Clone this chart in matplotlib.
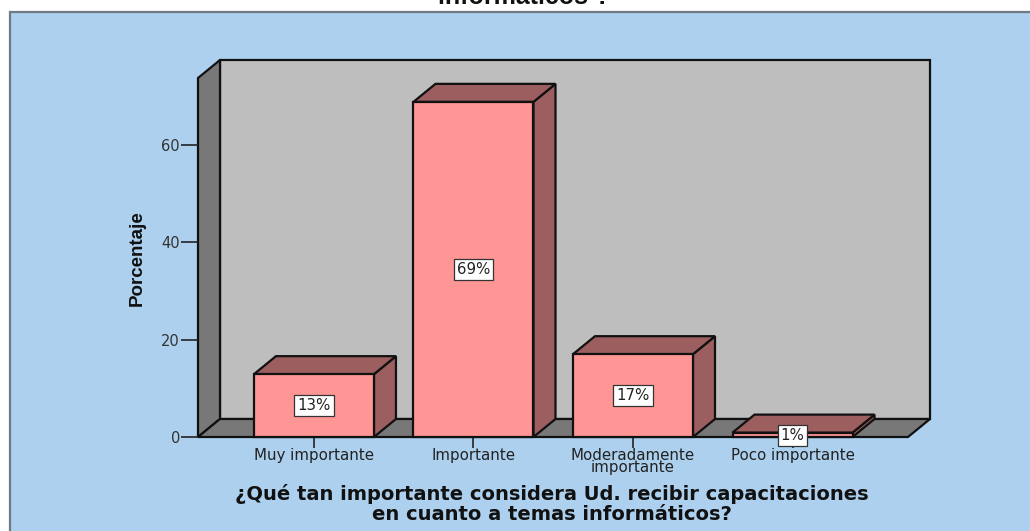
import matplotlib
matplotlib.use("Agg")
import matplotlib.pyplot as plt
from matplotlib.patches import Polygon, Rectangle

# Datos
categorias = ["Muy importante", "Importante", "Moderadamente\nimportante", "Poco importante"]
porcentajes = [12.9, 68.8, 17.0, 0.9]
etiquetas = ["13%", "69%", "17%", "1%"]
y_ticks = [0, 20, 40, 60]

W, H = 1030, 531
AZUL = "#acd0ee"
PARED = "#bebebe"
OSCURO = "#787878"
ROSA = "#ff9696"
ROSA_OSC = "#9c5e5e"


def px(x, y):
    return x / W, 1 - y / H


fig = plt.figure(figsize=(W / 100, H / 100), dpi=100, facecolor="white")

# Panel azul de fondo
fig.add_artist(Rectangle(px(9.5, H + 5), (W + 10) / W, (H + 5 - 11.5) / H, transform=fig.transFigure,
                         facecolor=AZUL, edgecolor="#6f7a84", linewidth=1.6, zorder=-1))

# Ejes: frente del cubo
ax = fig.add_axes([198 / W, 1 - 437 / H, (908 - 198) / W, (437 - 78) / H])
ax.set_xlim(-0.727, 3.724)
ax.set_ylim(0, 73.7)
ax.patch.set_alpha(0)
for s in ax.spines.values():
    s.set_visible(False)

# Profundidad en unidades de datos
dx = 22 / 159.5
dy = 18 / 4.87
x0, x1 = ax.get_xlim()
y0, y1 = ax.get_ylim()
lw = 1.6


def cara(puntos, color, z):
    ax.add_patch(Polygon(puntos, closed=True, facecolor=color, edgecolor="#111111",
                         linewidth=lw, clip_on=False, zorder=z, joinstyle="miter"))


cara([(x0 + dx, y0 + dy), (x1 + dx, y0 + dy), (x1 + dx, y1 + dy), (x0 + dx, y1 + dy)], PARED, 1)
cara([(x0, y0), (x0 + dx, y0 + dy), (x0 + dx, y1 + dy), (x0, y1)], OSCURO, 2)
cara([(x0, y0), (x1, y0), (x1 + dx, y0 + dy), (x0 + dx, y0 + dy)], OSCURO, 2)

# Barras 3D
ancho = 120 / 159.5
for i, v in enumerate(porcentajes):
    a, b = i - ancho / 2, i + ancho / 2
    z = 3 + i
    cara([(b, 0), (b + dx, dy), (b + dx, v + dy), (b, v)], ROSA_OSC, z)
    cara([(a, v), (b, v), (b + dx, v + dy), (a + dx, v + dy)], ROSA_OSC, z)
    ax.bar(i, v, width=ancho, color=ROSA, edgecolor="#111111", linewidth=lw, zorder=z, clip_on=False)
    ax.text(i, v / 2 if v > 5 else 0.3, etiquetas[i], ha="center", va="center", fontsize=10.8,
            family="DejaVu Sans", color="#222222", zorder=10,
            bbox=dict(boxstyle="square,pad=0.2", facecolor="white", edgecolor="#333333", linewidth=0.9))

# Ticks
ax.set_yticks(y_ticks)
ax.set_xticks(range(len(categorias)))
ax.set_xticklabels(categorias, fontsize=10.8, color="#222222", linespacing=0.72, family="DejaVu Sans")
ax.tick_params(axis="y", length=12, width=1.2, color="#222222", labelcolor="#333333", labelsize=10.5, pad=1)
ax.tick_params(axis="x", length=8, width=1.2, color="#222222", pad=0)
ax.set_axisbelow(False)

# Titulos
x, y = px(137, 258)
fig.text(x, y, "Porcentaje", rotation=90, ha="center", va="center", fontsize=13.5,
         fontweight="bold", family=["Liberation Sans Narrow", "Liberation Sans"], color="#111111")
x, y = px(552, 504)
fig.text(x, y, "¿Qué tan importante considera Ud. recibir capacitaciones\nen cuanto a temas informáticos?",
         ha="center", va="center", fontsize=14, fontweight="bold", family="DejaVu Sans",
         color="#111111", linespacing=1.0)
x, y = px(524, 4.5)
fig.text(x, y, "informáticos ?", ha="center", va="baseline", fontsize=18, family="Liberation Sans",
         fontweight="bold", color="#111111")

fig.savefig("out.png", dpi=100, facecolor="white")
